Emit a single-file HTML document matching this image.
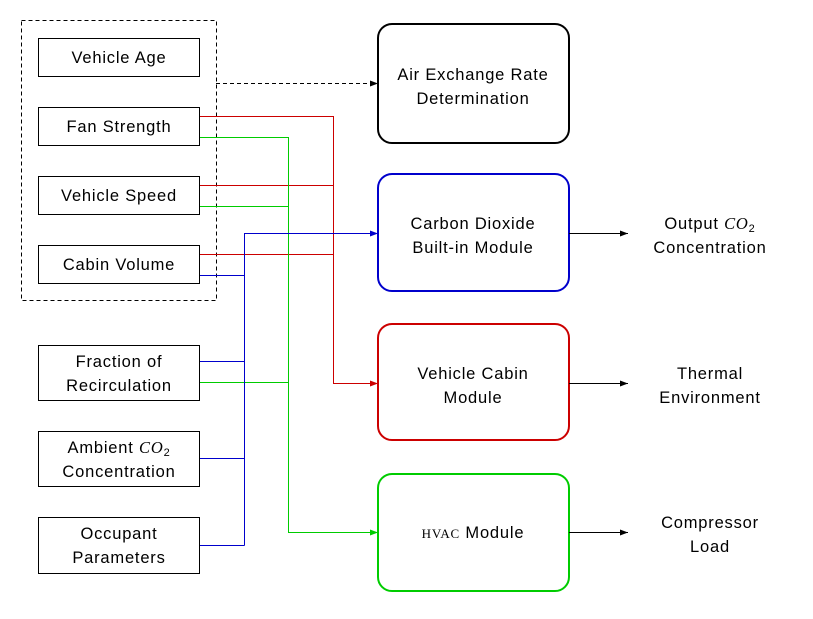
<!DOCTYPE html>
<html><head><style>body{margin:0;background:#fff}</style></head><body>
<svg width="813" height="614" xmlns="http://www.w3.org/2000/svg" font-family="Liberation Sans, DejaVu Sans, sans-serif" font-size="16.5" letter-spacing="0.8">
<defs>
<marker id="ak" markerWidth="8" markerHeight="6" refX="8" refY="3" orient="auto" markerUnits="userSpaceOnUse"><path d="M0,0L8,3L0,6z" fill="#000"/></marker>
<marker id="ab" markerWidth="8" markerHeight="6" refX="8" refY="3" orient="auto" markerUnits="userSpaceOnUse"><path d="M0,0L8,3L0,6z" fill="#0000cc"/></marker>
<marker id="ar" markerWidth="8" markerHeight="6" refX="8" refY="3" orient="auto" markerUnits="userSpaceOnUse"><path d="M0,0L8,3L0,6z" fill="#cc0000"/></marker>
<marker id="ag" markerWidth="8" markerHeight="6" refX="8" refY="3" orient="auto" markerUnits="userSpaceOnUse"><path d="M0,0L8,3L0,6z" fill="#00cc00"/></marker>
</defs>
<rect x="21.5" y="20.5" width="195" height="280" fill="none" stroke="#000" stroke-dasharray="4,3"/>
<g fill="none" stroke="#000" stroke-width="1">
<rect x="38.5" y="38.5" width="161" height="38"/>
<rect x="38.5" y="107.5" width="161" height="38"/>
<rect x="38.5" y="176.5" width="161" height="38"/>
<rect x="38.5" y="245.5" width="161" height="38"/>
<rect x="38.5" y="345.5" width="161" height="55"/>
<rect x="38.5" y="431.5" width="161" height="55"/>
<rect x="38.5" y="517.5" width="161" height="56"/>
</g>
<g fill="none" stroke-width="2">
<rect x="378" y="24" width="191" height="119" rx="14" stroke="#000"/>
<rect x="378" y="174" width="191" height="117" rx="14" stroke="#0000cc"/>
<rect x="378" y="324" width="191" height="116" rx="14" stroke="#cc0000"/>
<rect x="378" y="474" width="191" height="117" rx="14" stroke="#00cc00"/>
</g>
<line x1="216" y1="83.5" x2="378" y2="83.5" stroke="#000" stroke-dasharray="4,3" marker-end="url(#ak)"/>
<g fill="none" stroke="#cc0000">
<path d="M200 116.5H333.5V383.5H378" marker-end="url(#ar)"/>
<path d="M200 185.5H333.5M200 254.5H333.5"/>
</g>
<g fill="none" stroke="#00cc00">
<path d="M200 137.5H288.5V532.5H378" marker-end="url(#ag)"/>
<path d="M200 206.5H288.5M200 382.5H288.5"/>
</g>
<g fill="none" stroke="#0000cc">
<path d="M244.5 545.5V233.5H378" marker-end="url(#ab)"/>
<path d="M200 275.5H244.5M200 361.5H244.5M200 458.5H244.5M200 545.5H244.5"/>
</g>
<g stroke="#000">
<line x1="569" y1="233.5" x2="628" y2="233.5" marker-end="url(#ak)"/>
<line x1="569" y1="383.5" x2="628" y2="383.5" marker-end="url(#ak)"/>
<line x1="569" y1="532.5" x2="628" y2="532.5" marker-end="url(#ak)"/>
</g>
<g text-anchor="middle" fill="#000">
<text x="119" y="63">Vehicle Age</text>
<text x="119" y="132">Fan Strength</text>
<text x="119" y="201">Vehicle Speed</text>
<text x="119" y="270">Cabin Volume</text>
<text x="119" y="367">Fraction of</text><text x="119" y="391">Recirculation</text>
<text x="119" y="453">Ambient <tspan font-family="Liberation Serif, serif" font-style="italic">CO</tspan><tspan font-size="11" dy="3">2</tspan></text><text x="119" y="477">Concentration</text>
<text x="119" y="539">Occupant</text><text x="119" y="563">Parameters</text>
<text x="473" y="80">Air Exchange Rate</text><text x="473" y="104">Determination</text>
<text x="473" y="229">Carbon Dioxide</text><text x="473" y="253">Built-in Module</text>
<text x="473" y="379">Vehicle Cabin</text><text x="473" y="403">Module</text>
<text x="473" y="538"><tspan font-family="Liberation Serif, serif" font-size="13">HVAC</tspan> Module</text>
<text x="710" y="229">Output <tspan font-family="Liberation Serif, serif" font-style="italic">CO</tspan><tspan font-size="11" dy="3">2</tspan></text><text x="710" y="253">Concentration</text>
<text x="710" y="379">Thermal</text><text x="710" y="403">Environment</text>
<text x="710" y="528">Compressor</text><text x="710" y="552">Load</text>
</g>
</svg>
</body></html>
